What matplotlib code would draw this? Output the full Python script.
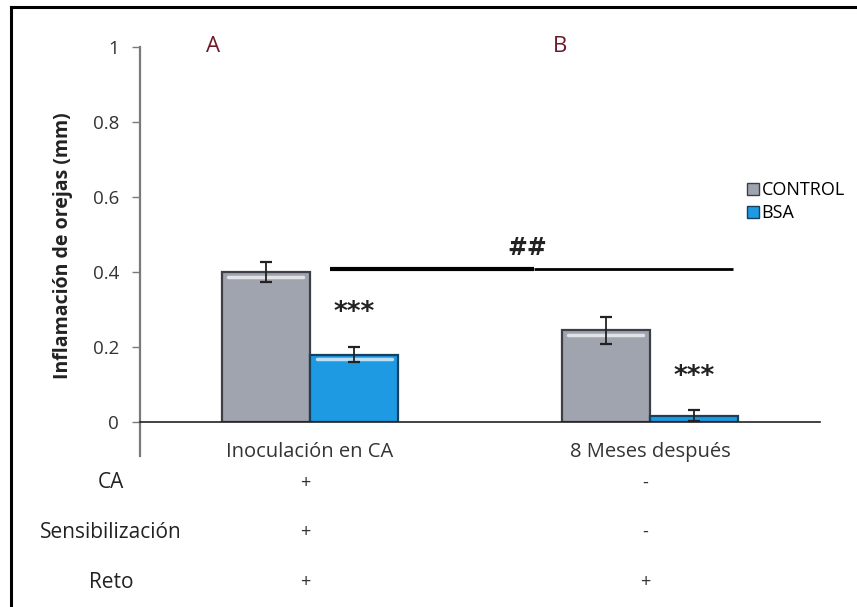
import matplotlib
matplotlib.use("Agg")
import matplotlib.pyplot as plt
from matplotlib.lines import Line2D
import matplotlib.transforms as mtransforms
import numpy as np

plt.rcParams['font.family'] = ['Open Sans', 'DejaVu Sans']

# Data
groups = ["Inoculación en CA", "8 Meses después"]
series_names = ["CONTROL", "BSA"]
control_vals = [0.40, 0.245]
control_err = [0.027, 0.036]
bsa_vals = [0.18, 0.017]
bsa_err = [0.019, 0.015]
yticks = [0, 0.2, 0.4, 0.6, 0.8, 1]
ytick_labels = ["0", "0.2", "0.4", "0.6", "0.8", "1"]
row_names = ["CA", "Sensibilización", "Reto"]
row_marks = [["+", "-"], ["+", "-"], ["+", "+"]]
panel_letters = ["A", "B"]

W, H = 857, 607
fig = plt.figure(figsize=(W / 100, H / 100), dpi=100)
fig.patch.set_facecolor("white")

def fx(px):
    return px / W

def fy(py):
    return 1 - py / H

ax = fig.add_axes([fx(140), fy(422), fx(820) - fx(140), (422 - 47) / H])
ax.set_xlim(-0.5, 1.5)
ax.set_ylim(0, 1)

x = np.arange(len(groups))
bw = 0.26
gray = "#a0a4ae"
gray_edge = "#3c3f46"
blue = "#1e9ae2"
blue_edge = "#173f5e"

ax.bar(x - bw / 2, control_vals, bw, color=gray, edgecolor=gray_edge,
       linewidth=1.6, label=series_names[0], zorder=2)
ax.bar(x + bw / 2, bsa_vals, bw, color=blue, edgecolor=blue_edge,
       linewidth=1.6, label=series_names[1], zorder=2)

# bevel highlight near the top of each bar
for xs, vals in ((x - bw / 2, control_vals), (x + bw / 2, bsa_vals)):
    for xi, v in zip(xs, vals):
        if v > 0.05:
            ax.plot([xi - bw / 2 + 0.02, xi + bw / 2 - 0.02], [v - 0.012, v - 0.012],
                    color="white", lw=2.5, alpha=0.7, zorder=3,
                    solid_capstyle="round")

ax.errorbar(x - bw / 2, control_vals, yerr=control_err, fmt="none",
            ecolor="#222222", elinewidth=1.3, capsize=4.5, capthick=1.6, zorder=4)
ax.errorbar(x + bw / 2, bsa_vals, yerr=bsa_err, fmt="none",
            ecolor="#222222", elinewidth=1.3, capsize=4.5, capthick=1.6, zorder=4)

# axes styling
for s in ("top", "right"):
    ax.spines[s].set_visible(False)
ax.spines["left"].set_color("#7a7a7a")
ax.spines["left"].set_linewidth(1.6)
ax.spines["bottom"].set_color("#222222")
ax.spines["bottom"].set_linewidth(1.2)
ax.set_xticks([])
ax.set_yticks(yticks)
ax.set_yticklabels(ytick_labels, fontsize=13.5, color="#333333")
ax.tick_params(axis="y", length=6, width=1, color="#7a7a7a", pad=9)
ax.plot([-0.5, -0.5], [0, -0.09], color="#7a7a7a", lw=1.6, clip_on=False)

ax.set_ylabel("Inflamación de orejas (mm)", fontsize=14, fontweight="bold",
              color="#222222")
ax.yaxis.set_label_coords(-0.098, 0.47)

# significance marks
ax.plot([0.06, 0.66], [0.408, 0.408], color="black", lw=3.0, solid_capstyle="butt")
ax.plot([0.66, 1.245], [0.408, 0.408], color="black", lw=2.0, solid_capstyle="butt")
ax.text(0.638, 0.464, "##", ha="center", va="center", fontsize=17,
        fontweight="bold", color="#222222", family="DejaVu Sans")
ax.text(x[0] + bw / 2, 0.29, "***", ha="center", va="center",
        fontsize=19, fontweight="bold", color="#222222", family="DejaVu Sans")
ax.text(x[1] + bw / 2, 0.12, "***", ha="center", va="center",
        fontsize=19, fontweight="bold", color="#222222", family="DejaVu Sans")

letter_x = [-0.285, 0.735]
for lx, letter in zip(letter_x, panel_letters):
    ax.text(lx, 1.0, letter, ha="center", va="center", fontsize=16,
            color="#6b1a2a")

# legend
handles = [Line2D([], [], marker="s", linestyle="none", markersize=8,
                  markerfacecolor=gray, markeredgecolor=gray_edge),
           Line2D([], [], marker="s", linestyle="none", markersize=8,
                  markerfacecolor=blue, markeredgecolor=blue_edge)]
fig.legend(handles, series_names, loc="upper left",
           bbox_to_anchor=(fx(739), fy(172)), frameon=False, fontsize=13,
           handlelength=0.6, handletextpad=0.15, labelspacing=0.3,
           borderpad=0)

# table below the axis
trans = mtransforms.blended_transform_factory(ax.transData, fig.transFigure)
for xi, g in zip(x, groups):
    ax.text(xi, fy(452), g, transform=trans, ha="center", va="center",
            fontsize=14.5, color="#333333")
row_y = [483, 532, 582]
for ry, name, marks in zip(row_y, row_names, row_marks):
    fig.text(fx(111), fy(ry), name, ha="center", va="center", fontsize=15,
             color="#222222")
    for xi, m in zip(x, marks):
        ax.text(xi - 0.015, fy(ry), m, transform=trans, ha="center",
                va="center", fontsize=13, color="#333333")

# frame lines
fig.add_artist(Line2D([fx(11), 1], [fy(7), fy(7)], color="black", lw=2.2))
fig.add_artist(Line2D([fx(11), fx(11)], [fy(7), 0], color="black", lw=2.2))

fig.savefig("out.png", dpi=100, facecolor="white")
